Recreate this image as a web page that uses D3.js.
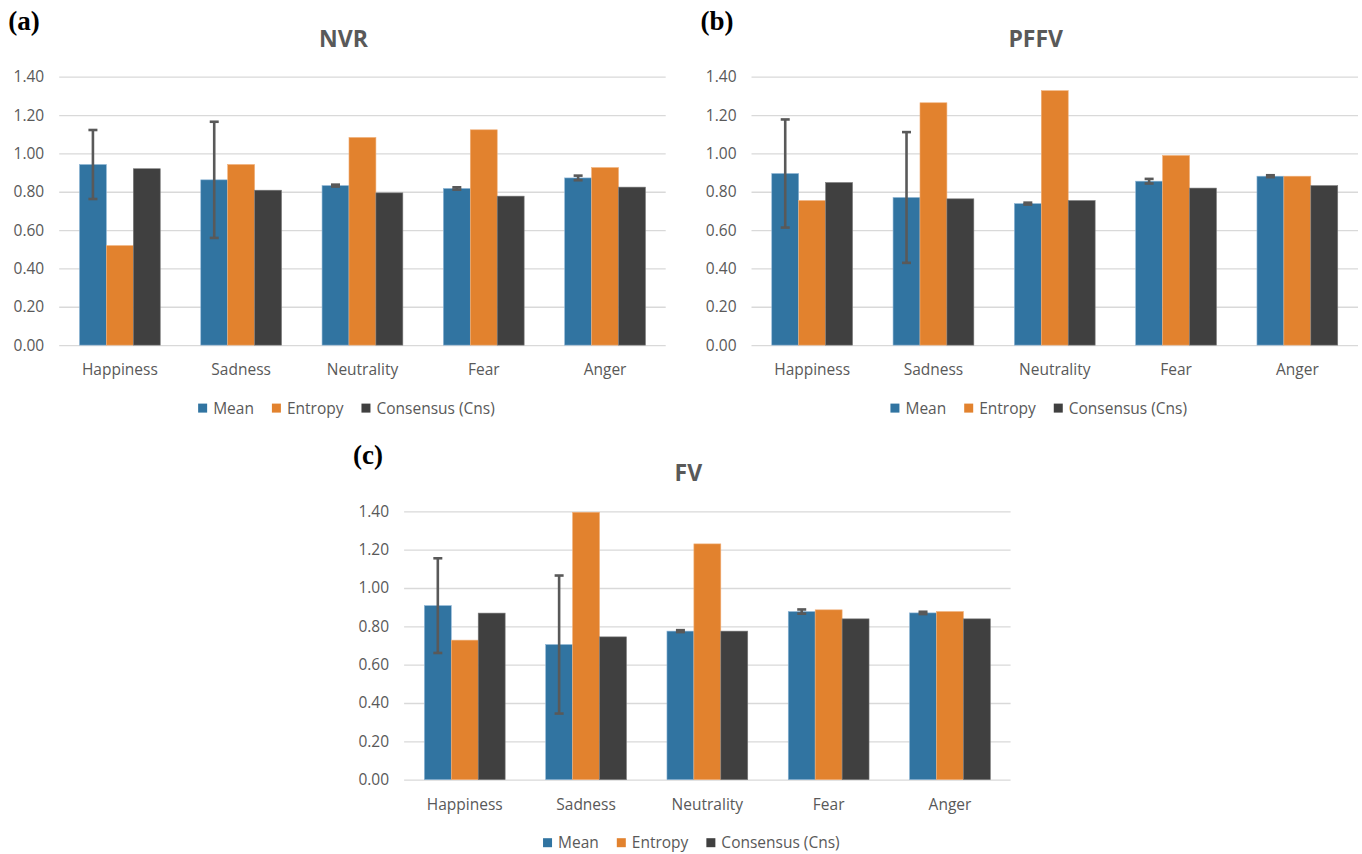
<!DOCTYPE html>
<html>
<head>
<meta charset="utf-8">
<script src="https://cdn.jsdelivr.net/npm/d3@7"></script>
<style>
  body { margin: 0; background: #fff; }
  text { font-family: "Open Sans", sans-serif; }
</style>
</head>
<body>
<div id="chart"></div>
<script>
// categories and series
var categories = ["Happiness", "Sadness", "Neutrality", "Fear", "Anger"];
var seriesNames = ["Mean", "Entropy", "Consensus (Cns)"];
var yTicks = [0, 0.2, 0.4, 0.6, 0.8, 1.0, 1.2, 1.4];

// (a) NVR
var nvrMean    = [0.942, 0.862, 0.832, 0.817, 0.872];
var nvrMeanErr = [0.180, 0.303, 0.005, 0.006, 0.012];
var nvrEntropy = [0.519, 0.942, 1.083, 1.123, 0.926];
var nvrCns     = [0.920, 0.808, 0.794, 0.777, 0.824];

// (b) PFFV
var pffvMean    = [0.895, 0.770, 0.738, 0.855, 0.881];
var pffvMeanErr = [0.282, 0.341, 0.005, 0.012, 0.005];
var pffvEntropy = [0.754, 1.264, 1.327, 0.989, 0.881];
var pffvCns     = [0.848, 0.763, 0.754, 0.819, 0.832];

// (c) FV
var fvMean    = [0.908, 0.705, 0.775, 0.877, 0.870];
var fvMeanErr = [0.247, 0.360, 0.005, 0.011, 0.006];
var fvEntropy = [0.728, 1.395, 1.230, 0.886, 0.877];
var fvCns     = [0.869, 0.745, 0.775, 0.839, 0.839];

var colors = ["#3174a1", "#e2822e", "#404040"];
var strokes = ["#8fb6d6", "#f0b07a", "#7a7a7a"];

var W = 1362, H = 854;
var plotW = 606.5, plotH = 268.4;

var panels = [
  {label: "(a)", title: "NVR",  left: 59.2,  top: 76.7,  mean: nvrMean,  err: nvrMeanErr,  ent: nvrEntropy,  cns: nvrCns},
  {label: "(b)", title: "PFFV", left: 751.5, top: 76.7,  mean: pffvMean, err: pffvMeanErr, ent: pffvEntropy, cns: pffvCns},
  {label: "(c)", title: "FV",   left: 404.1, top: 511.3, mean: fvMean,   err: fvMeanErr,   ent: fvEntropy,   cns: fvCns}
];

var svg = d3.select("#chart").append("svg")
  .attr("width", W)
  .attr("height", H);

panels.forEach(function(p) {
  var g = svg.append("g")
    .attr("transform", "translate(" + p.left + "," + p.top + ")");

  var x0 = d3.scaleBand().domain(categories).range([0, plotW])
    .paddingInner(0.334).paddingOuter(0.167);
  var x1 = d3.scaleBand().domain(seriesNames).range([0, x0.bandwidth()]).padding(0);
  var y = d3.scaleLinear().domain([0, 1.4]).range([plotH, 0]);

  // gridlines + y labels
  var ya = g.append("g")
    .call(d3.axisLeft(y).tickValues(yTicks).tickFormat(d3.format(".2f"))
      .tickSize(-plotW).tickPadding(15));
  ya.select(".domain").remove();
  ya.selectAll("line").attr("stroke", "#d9d9d9").attr("stroke-width", 1.3);
  ya.selectAll("text").attr("fill", "#595959").style("font-size", "15.5px");

  // bars
  var rows = categories.map(function(c, i) {
    return {cat: c, vals: [p.mean[i], p.ent[i], p.cns[i]], err: p.err[i]};
  });

  var grp = g.selectAll(".grp").data(rows).enter().append("g")
    .attr("transform", function(d) { return "translate(" + x0(d.cat) + ",0)"; });

  grp.selectAll("rect")
    .data(function(d) { return d.vals.map(function(v, k) { return {s: seriesNames[k], v: v, k: k}; }); })
    .enter().append("rect")
    .attr("x", function(d) { return x1(d.s); })
    .attr("width", x1.bandwidth())
    .attr("y", function(d) { return y(d.v); })
    .attr("height", function(d) { return plotH - y(d.v); })
    .attr("fill", function(d) { return colors[d.k]; })
    .attr("stroke", function(d) { return strokes[d.k]; })
    .attr("stroke-width", 0.6);

  // error bars on Mean
  var eb = grp.append("g").attr("stroke", "#595959").attr("stroke-width", 2.6);
  var cx = x1("Mean") + x1.bandwidth() / 2;
  eb.append("line")
    .attr("x1", cx).attr("x2", cx)
    .attr("y1", function(d) { return y(d.vals[0] + d.err); })
    .attr("y2", function(d) { return y(d.vals[0] - d.err); });
  eb.append("line")
    .attr("x1", cx - 4.5).attr("x2", cx + 4.5)
    .attr("y1", function(d) { return y(d.vals[0] + d.err); })
    .attr("y2", function(d) { return y(d.vals[0] + d.err); });
  eb.append("line")
    .attr("x1", cx - 4.5).attr("x2", cx + 4.5)
    .attr("y1", function(d) { return y(d.vals[0] - d.err); })
    .attr("y2", function(d) { return y(d.vals[0] - d.err); });

  // category labels
  var xa = g.append("g")
    .attr("transform", "translate(0," + plotH + ")")
    .call(d3.axisBottom(x0).tickSize(0).tickPadding(19));
  xa.select(".domain").remove();
  xa.selectAll("text").attr("fill", "#595959").style("font-size", "15.5px");

  // title
  g.append("text")
    .attr("x", plotW / 2 - 19)
    .attr("y", -30)
    .attr("text-anchor", "middle")
    .attr("fill", "#595959")
    .style("font-size", "23px")
    .style("font-weight", "bold")
    .text(p.title);

  // panel label
  g.append("text")
    .attr("x", -51)
    .attr("y", -47)
    .style("font-family", "'Liberation Serif', 'Times New Roman', serif")
    .style("font-size", "27px")
    .style("font-weight", "bold")
    .attr("fill", "#000")
    .text(p.label);

  // legend
  var leg = g.append("g");
  var xpos = 0;
  seriesNames.forEach(function(s, k) {
    var it = leg.append("g");
    it.append("rect").attr("x", 0).attr("y", -4.5).attr("width", 9).attr("height", 9)
      .attr("fill", colors[k]);
    var t = it.append("text").attr("x", 15).attr("y", 0).attr("dy", "0.35em")
      .attr("fill", "#595959").style("font-size", "15.5px").text(s);
    var w = 15 + t.node().getComputedTextLength();
    it.attr("transform", "translate(" + xpos + ",0)");
    xpos += w + 18;
  });
  var total = xpos - 18;
  leg.attr("transform", "translate(" + (plotW / 2 - 16 - total / 2) + "," + (plotH + 63) + ")");
});
</script>
</body>
</html>
